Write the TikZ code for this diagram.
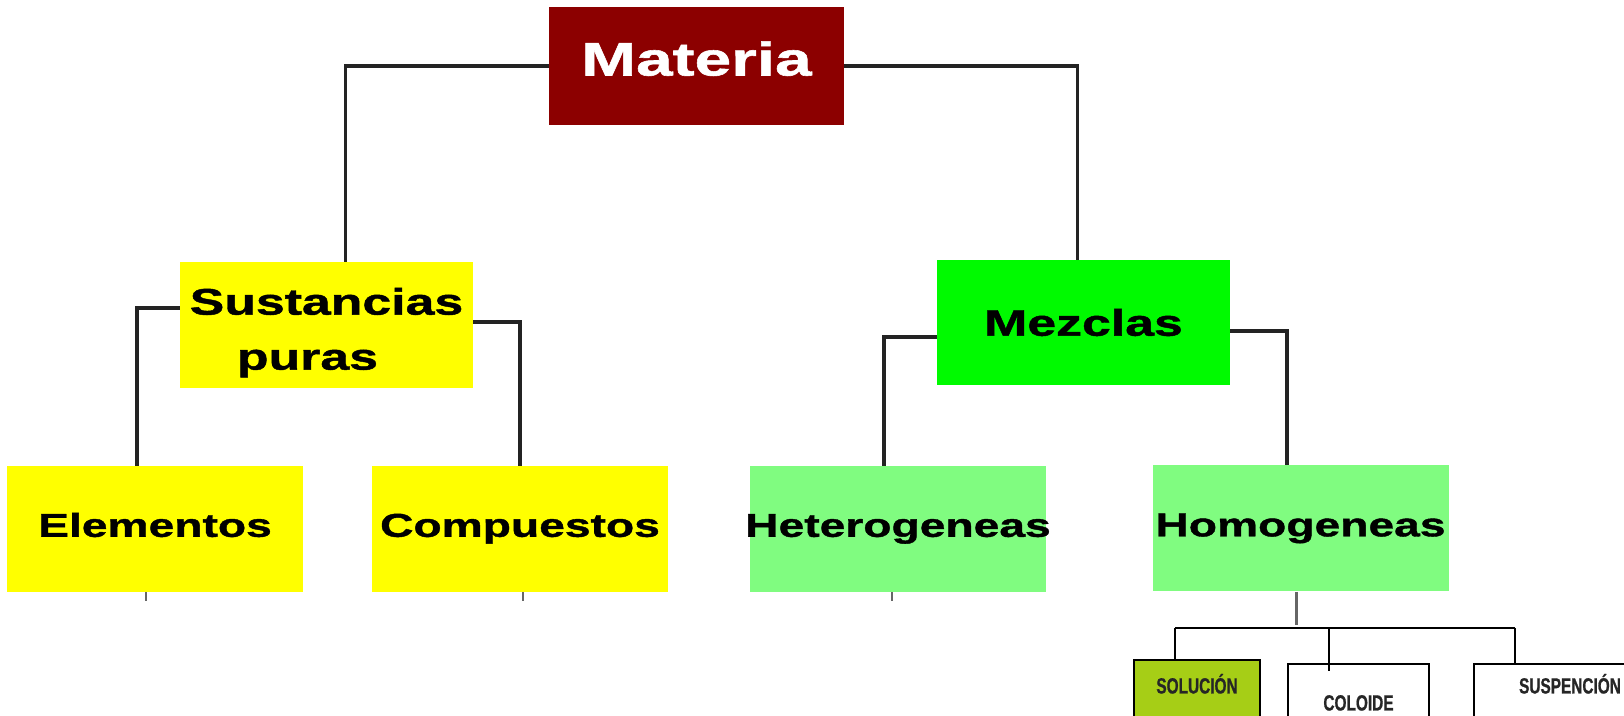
\documentclass[tikz,border=0pt]{standalone}
\usepackage{fontspec}
\setmainfont{Liberation Sans}[FakeStretch=1.4, BoldFeatures={FakeBold=1.2}]
\newfontfamily\condfont{Liberation Sans}[FakeStretch=0.7, BoldFeatures={FakeBold=0.8}]
\usepackage{xcolor}
\usepackage{tikz}
\usetikzlibrary{positioning}
\definecolor{materiacolor}{RGB}{140,0,0}
\definecolor{purecolor}{RGB}{255,255,0}
\definecolor{mixcolor}{RGB}{0,250,0}
\definecolor{mixlightcolor}{RGB}{128,252,128}
\definecolor{solucioncolor}{RGB}{166,206,22}
\definecolor{linecolor}{RGB}{35,35,35}

\begin{document}
\begin{tikzpicture}[x=0.5pt,y=-0.5pt,
    box/.style={rectangle, inner sep=0pt},
    topbox/.style={box, fill=materiacolor, text=white, minimum width=147.5pt, minimum height=59pt, text depth=7.5pt, font=\bfseries\fontsize{23.5}{26}\selectfont},
    midbox/.style={box, align=center, font=\bfseries\fontsize{18.5}{27.5}\selectfont},
    lowbox/.style={box, minimum width=148pt, minimum height=63pt, text height=11.8pt, text depth=4pt, font=\bfseries\fontsize{16.5}{18}\selectfont},
    smallbox/.style={box, draw=black, line width=1pt, anchor=north, text depth=30pt, text=black!85, font=\condfont\bfseries\fontsize{11}{12}\selectfont},
    link/.style={draw=linecolor, line width=1.75pt},
    thinlink/.style={draw=black, line width=1pt},
    stub/.style={draw=black!60, line width=1.5pt},
    tick/.style={draw=black!60, line width=1pt}]
    \useasboundingbox (0,0) rectangle (1624,716);

    % Top level
    \node[topbox] (mat) at (696.5,66) {Materia};

    % Second level
    \node[midbox, fill=purecolor, minimum width=146.5pt, minimum height=63pt] (sus) at (326.5,325) {\rule{0pt}{21pt}Sustancias\\\hspace*{-19pt}puras};
    \node[midbox, fill=mixcolor, minimum width=146.5pt, minimum height=62.5pt] (mez) at (1083.5,322.5) {Mezclas};

    % Third level
    \node[lowbox, fill=purecolor] (ele) at (155,529) {Elementos};
    \node[lowbox, fill=purecolor] (com) at (520,529) {Compuestos};
    \node[lowbox, fill=mixlightcolor] (het) at (898,529) {\makebox[0pt]{Heterogeneas}};
    \node[lowbox, fill=mixlightcolor] (hom) at (1300.5,528.5) {Homogeneas};

    % Kinds of homogeneous mixtures
    \node[smallbox, fill=solucioncolor, minimum width=63pt, text height=16.75pt] (sol) at (1197,659) {SOLUCIÓN};
    \node[smallbox, fill=white, minimum width=70.5pt, text height=23.25pt] (col) at (1358.5,663) {COLOIDE};
    \node[smallbox, fill=white, minimum width=96pt, text height=14.75pt] (susp) at (1570,663) {SUSPENCIÓN};

    % Connectors
    \draw[link] (mat.west) -| ([xshift=9.5pt]sus.north);
    \draw[link] (mat.east) -| ([xshift=-3pt]mez.north);
    \draw[link] ([yshift=8.5pt]sus.west) -| ([xshift=-9pt]ele.north);
    \draw[link] ([yshift=1.5pt]sus.east) -| (com.north);
    \draw[link] ([yshift=-7.25pt]mez.west) -| ([xshift=-7pt]het.north);
    \draw[link] ([yshift=-4.25pt]mez.east) -| ([xshift=-6.75pt]hom.north);

    \foreach \n/\dx in {ele/-4.5pt, com/1.5pt, het/-3pt}
        \draw[tick] ([xshift=\dx]\n.south) -- ++(0,9);

    \coordinate (busl) at (1175,628);
    \coordinate (busm) at (1329,628);
    \coordinate (busr) at (1515,628);
    \draw[stub] ([xshift=-2.25pt]hom.south) -- ++(0,33);
    \draw[thinlink] (busl) -- (busr);
    \draw[thinlink] (busl) -- (busl |- sol.north);
    \draw[thinlink] (busm) -- ++(0,43);
    \draw[thinlink] (busr) -- (busr |- susp.north);
\end{tikzpicture}
\end{document}
